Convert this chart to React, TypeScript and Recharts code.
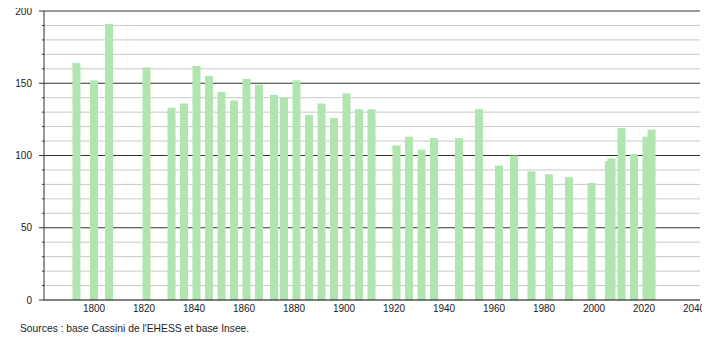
import React from 'react';
import { ComposedChart, Bar, XAxis, YAxis, CartesianGrid } from 'recharts';

const years = [1793, 1800, 1806, 1821, 1831, 1836, 1841, 1846, 1851, 1856, 1861, 1866, 1872, 1876, 1881, 1886, 1891, 1896, 1901, 1906, 1911, 1921, 1926, 1931, 1936, 1946, 1954, 1962, 1968, 1975, 1982, 1990, 1999, 2006, 2007, 2011, 2016, 2021, 2023];
const population = [164, 152, 191, 161, 133, 136, 162, 155, 144, 138, 153, 149, 142, 140, 152, 128, 136, 126, 143, 132, 132, 107, 113, 104, 112, 112, 132, 93, 100, 89, 87, 85, 81, 96, 98, 119, 101, 113, 118];
const xTicks = [1800, 1820, 1840, 1860, 1880, 1900, 1920, 1940, 1960, 1980, 2000, 2020, 2040];
const yTicks = [0, 10, 20, 30, 40, 50, 60, 70, 80, 90, 100, 110, 120, 130, 140, 150, 160, 170, 180, 190, 200];
const majorY = [50, 100, 150, 200];
const minorY = [10, 20, 30, 40, 60, 70, 80, 90, 110, 120, 130, 140, 160, 170, 180, 190];
const sourceText = "Sources : base Cassini de l'EHESS et base Insee.";

const data = years.map((y, i) => ({ year: y, pop: population[i] }));

const FONT = '"Liberation Sans", Arial, Helvetica, sans-serif';

const BarShape = (props: any) => {
  const { x, y, width, height } = props;
  const cx = x + width / 2;
  return <rect x={cx - 4} y={y} width={8} height={height} fill="#b0e5b0" />;
};

const YTick = (props: any) => {
  const { x, y, payload } = props;
  const v = payload.value;
  const major = v % 50 === 0;
  return (
    <g>
      <line x1={x - (major ? 5 : 2)} x2={x} y1={y} y2={y} stroke="#333" strokeWidth={1} />
      {major && (
        <text x={x - 12} y={y} dy="0.35em" textAnchor="end" fontSize={10} fill="#222" fontFamily={FONT}>
          {v}
        </text>
      )}
    </g>
  );
};

export default function App() {
  return (
    <div style={{ position: 'relative', width: 710, height: 340, marginLeft: -8, marginTop: -8 }}>
      <ComposedChart
        width={710}
        height={340}
        data={data}
        margin={{ top: 11, right: 10, left: 8, bottom: 20 }}
      >
        <CartesianGrid vertical={false} horizontalValues={minorY} stroke="#c8c8c8" />
        <CartesianGrid vertical={false} horizontalValues={majorY} stroke="#333" />
        <XAxis
          dataKey="year"
          type="number"
          domain={[1780, 2042.4]}
          ticks={xTicks}
          interval={0}
          allowDataOverflow
          tickLine={false}
          tickSize={0}
          tickMargin={5}
          axisLine={{ stroke: '#000' }}
          tick={{ fontSize: 10, fill: '#222', fontFamily: FONT }}
          height={20}
        />
        <YAxis
          type="number"
          domain={[0, 200]}
          ticks={yTicks}
          interval={0}
          width={36}
          tickLine={false}
          tickSize={0}
          tickMargin={0}
          axisLine={{ stroke: '#333' }}
          tick={<YTick />}
        />
        <Bar dataKey="pop" isAnimationActive={false} shape={<BarShape />} />
      </ComposedChart>
      <div
        style={{
          position: 'absolute',
          left: 20,
          top: 323,
          fontFamily: FONT,
          fontSize: 10.3,
          lineHeight: '12px',
          color: '#222',
          whiteSpace: 'nowrap',
        }}
      >
        {sourceText}
      </div>
    </div>
  );
}
